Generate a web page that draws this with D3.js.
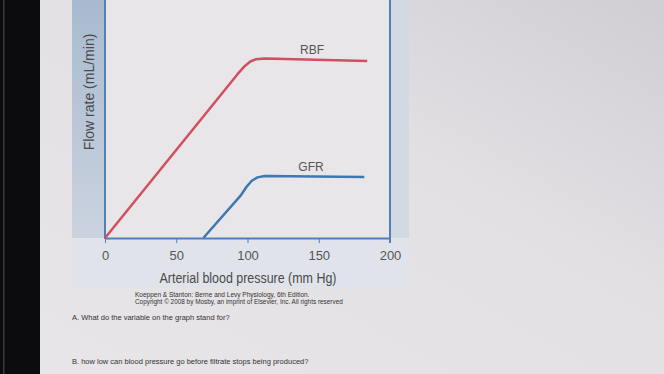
<!DOCTYPE html>
<meta charset="utf-8">
<style>
body { margin: 0; background: #dedcdf; }
svg { display: block; font-family: "Liberation Sans", Arial, sans-serif; }
.axis path, .axis line { stroke: #4f80b6; }
.axis text { fill: #555; font-size: 13px; }
</style>
<svg width="664" height="374"></svg>
<script src="https://d3js.org/d3.v7.min.js"></script>
<script>

var pressureTicks = [0, 50, 100, 150, 200];
var rbfPressure = [0, 93, 98, 102, 106, 112, 184];
var rbfFlow = [0, 63.5, 66.6, 68.4, 69.3, 69.6, 68.6];
var gfrPressure = [69, 95, 99, 103, 107, 112, 182];
var gfrFlow = [0, 16.3, 19.6, 22.2, 23.5, 24, 23.6];

var svg = d3.select("svg");
var defs = svg.append("defs");

// photo-ish page shading
var pg = defs.append("linearGradient").attr("id", "page")
    .attr("x1", 0).attr("y1", 1).attr("x2", 1).attr("y2", 0);
pg.append("stop").attr("offset", 0).attr("stop-color", "#e8e6e8");
pg.append("stop").attr("offset", 0.6).attr("stop-color", "#e2e0e3");
pg.append("stop").attr("offset", 1).attr("stop-color", "#d0ced4");

var band = defs.append("linearGradient").attr("id", "band")
    .attr("x1", 0).attr("y1", 0).attr("x2", 0).attr("y2", 1);
band.append("stop").attr("offset", 0).attr("stop-color", "#a9bad0");
band.append("stop").attr("offset", 1).attr("stop-color", "#cbd3df");

svg.append("rect").attr("width", 664).attr("height", 374).attr("fill", "url(#page)");

// monitor bezel
svg.append("rect").attr("x", 0).attr("y", 0).attr("width", 40).attr("height", 374).attr("fill", "#0c0b0d");
svg.append("rect").attr("x", 3).attr("y", 0).attr("width", 1.5).attr("height", 374).attr("fill", "#3a383c");

var x = d3.scaleLinear().domain([0, 200]).range([105, 390]);
var y = d3.scaleLinear().domain([0, 100]).range([238, -20]);

// figure panel
svg.append("rect").attr("x", 72).attr("y", 0).attr("width", 337).attr("height", 288).attr("fill", "#e0e4ea");
svg.append("rect").attr("x", 72).attr("y", 0).attr("width", 33).attr("height", 238).attr("fill", "url(#band)");
svg.append("rect").attr("x", 390).attr("y", 0).attr("width", 19).attr("height", 238).attr("fill", "#d2d9e2");
svg.append("rect").attr("x", x(0)).attr("y", 0).attr("width", x(200) - x(0)).attr("height", y(0))
    .attr("fill", "#e8e6e8");

var xAxis = svg.append("g")
    .attr("class", "axis")
    .attr("transform", "translate(0," + y(0) + ")")
    .call(d3.axisBottom(x).tickValues(pressureTicks).tickSize(5).tickSizeOuter(0).tickPadding(8));
xAxis.select(".domain").attr("stroke-width", 2);

// left axis and right frame
svg.append("line").attr("x1", x(0)).attr("x2", x(0)).attr("y1", y(0) + 1).attr("y2", 0)
    .attr("stroke", "#4f80b6").attr("stroke-width", 2);
svg.append("line").attr("x1", x(200)).attr("x2", x(200)).attr("y1", y(0) + 5).attr("y2", 0)
    .attr("stroke", "#4f80b6").attr("stroke-width", 2);

var line = d3.line()
    .x(function(d) { return x(d[0]); })
    .y(function(d) { return y(d[1]); });

svg.append("path")
    .datum(d3.zip(rbfPressure, rbfFlow))
    .attr("d", line)
    .attr("fill", "none")
    .attr("stroke", "#d14f60")
    .attr("stroke-width", 2.5)
    .attr("stroke-linejoin", "round");

svg.append("path")
    .datum(d3.zip(gfrPressure, gfrFlow))
    .attr("d", line)
    .attr("fill", "none")
    .attr("stroke", "#3d78b2")
    .attr("stroke-width", 2.5)
    .attr("stroke-linejoin", "round");

svg.append("text").attr("x", 312).attr("y", 54).attr("text-anchor", "middle")
    .attr("font-size", 12).attr("fill", "#555").text("RBF");
svg.append("text").attr("x", 311).attr("y", 171).attr("text-anchor", "middle")
    .attr("font-size", 12).attr("fill", "#555").text("GFR");

svg.append("text")
    .attr("transform", "translate(94,92) rotate(-90)")
    .attr("text-anchor", "middle")
    .attr("font-size", 14).attr("fill", "#4a4a4a")
    .text("Flow rate (mL/min)");

// axis title is a condensed face in the original
svg.append("text")
    .attr("transform", "translate(248,283) scale(0.83,1)")
    .attr("text-anchor", "middle")
    .attr("font-size", 15).attr("fill", "#4a4a4a")
    .text("Arterial blood pressure (mm Hg)");

svg.append("text").attr("x", 135).attr("y", 297)
    .attr("font-size", 6.5).attr("fill", "#333")
    .text("Koeppen & Stanton: Berne and Levy Physiology, 6th Edition.");
svg.append("text").attr("x", 135).attr("y", 304)
    .attr("font-size", 6.4).attr("fill", "#333")
    .text("Copyright \u00a9 2008 by Mosby, an imprint of Elsevier, Inc. All rights reserved");

svg.append("text").attr("x", 72).attr("y", 320)
    .attr("font-size", 7.5).attr("fill", "#333")
    .text("A. What do the variable on the graph stand for?");
svg.append("text").attr("x", 72).attr("y", 364)
    .attr("font-size", 7.5).attr("fill", "#333")
    .text("B. how low can blood pressure go before filtrate stops being produced?");

</script>
